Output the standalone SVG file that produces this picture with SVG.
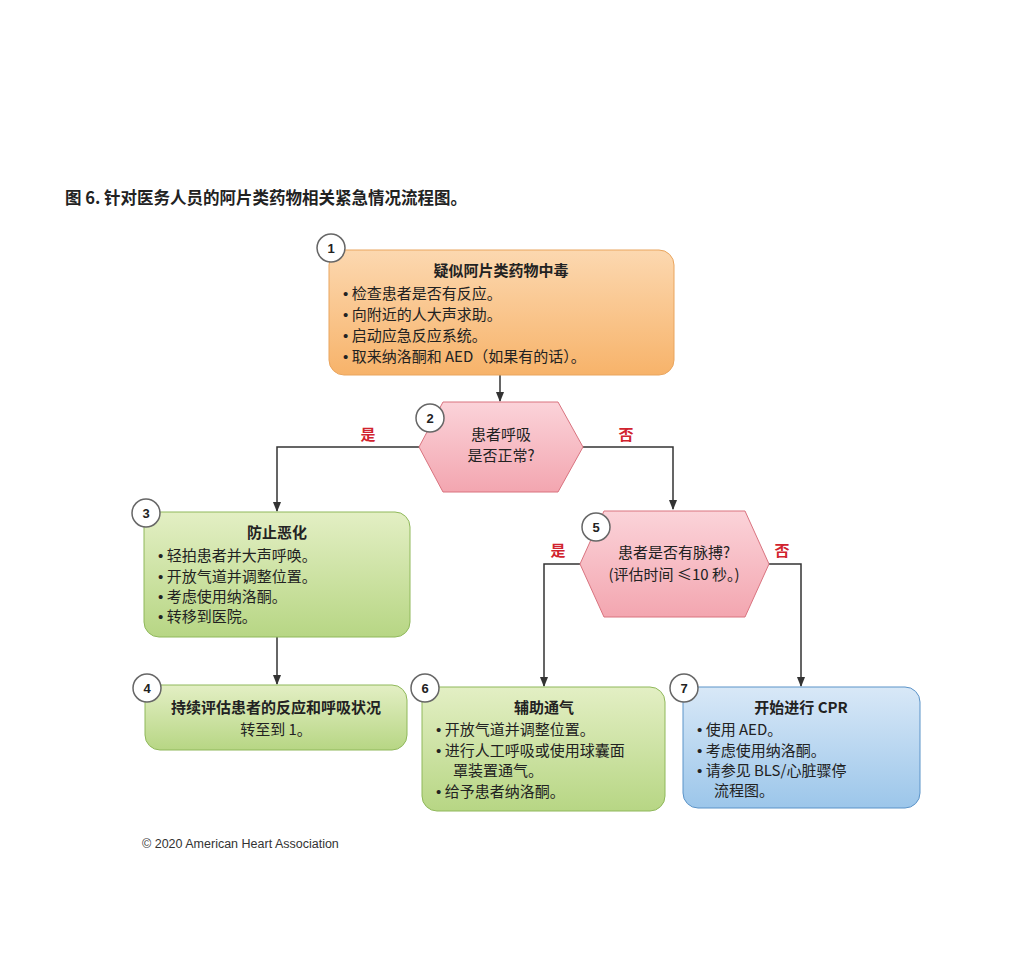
<svg xmlns="http://www.w3.org/2000/svg" width="1016" height="976" viewBox="0 0 1016 976">
<defs>
<linearGradient id="go" x1="0" y1="0" x2="0" y2="1"><stop offset="0" stop-color="#fcd8b0"/><stop offset="1" stop-color="#f7b36a"/></linearGradient>
<linearGradient id="gg" x1="0" y1="0" x2="0" y2="1"><stop offset="0" stop-color="#e3efc4"/><stop offset="1" stop-color="#b7d684"/></linearGradient>
<linearGradient id="gr" x1="0" y1="0" x2="0" y2="1"><stop offset="0" stop-color="#fbd3d9"/><stop offset="1" stop-color="#f3a6b0"/></linearGradient>
<linearGradient id="gb" x1="0" y1="0" x2="0" y2="1"><stop offset="0" stop-color="#d8e8f7"/><stop offset="1" stop-color="#9cc6ea"/></linearGradient>
<marker id="ar" viewBox="0 0 10 10" refX="9" refY="5" markerWidth="7" markerHeight="7" orient="auto"><path d="M0,1 L10,5 L0,9 z" fill="#333"/></marker>
<style>
text{font-family:"Noto Sans CJK SC","Liberation Sans",sans-serif;fill:#222;font-size:15px}
.h{font-weight:bold}
.c{text-anchor:middle}
.b{font-family:"Liberation Sans",sans-serif}
.yn{fill:#d1232e;font-weight:bold;font-size:15px}
.n circle{fill:#fff;stroke:#666;stroke-width:1.5}
.n .num{font-family:"Liberation Sans",sans-serif;font-weight:bold;font-size:13px;text-anchor:middle}
.conn path{fill:none;stroke:#333;stroke-width:1.5;marker-end:url(#ar)}
</style>
</defs>
<rect width="1016" height="976" fill="#fff"/>
<text x="65" y="204" class="h" style="font-size:16.5px">图 6. 针对医务人员的阿片类药物相关紧急情况流程图。</text>
<g class="conn">
<path d="M500,375 V401"/>
<path d="M419,447 H277 V511"/>
<path d="M583,447 H673 V509"/>
<path d="M277,637 V684"/>
<path d="M580,564 H544 V686"/>
<path d="M769,564 H801 V686"/>
</g>
<text x="368" y="440" class="yn c">是</text>
<text x="626" y="440" class="yn c">否</text>
<text x="558" y="556" class="yn c">是</text>
<text x="782" y="556" class="yn c">否</text>
<g id="n1" class="n">
<rect x="329" y="250" width="345" height="125" rx="15" fill="url(#go)" stroke="#e9a55e"/>
<circle cx="331" cy="248" r="14"/><text x="331" y="253" class="num">1</text>
<text x="501" y="276" class="h c">疑似阿片类药物中毒</text>
<text x="343" y="299"><tspan class="b">•</tspan>  检查患者是否有反应。</text>
<text x="343" y="320"><tspan class="b">•</tspan>  向附近的人大声求助。</text>
<text x="343" y="341"><tspan class="b">•</tspan>  启动应急反应系统。</text>
<text x="343" y="362"><tspan class="b">•</tspan>  取来纳洛酮和 AED（如果有的话）。</text>
</g>
<g id="n2" class="n">
<polygon points="419,447 443,402 558,402 583,447 558,492 443,492" fill="url(#gr)" stroke="#d9737f"/>
<circle cx="430" cy="418" r="14"/><text x="430" y="423" class="num">2</text>
<text x="501" y="440" class="c">患者呼吸</text>
<text x="501" y="461" class="c">是否正常?</text>
</g>
<g id="n3" class="n">
<rect x="144" y="512" width="266" height="125" rx="15" fill="url(#gg)" stroke="#8fb85a"/>
<circle cx="146" cy="513" r="14"/><text x="146" y="518" class="num">3</text>
<text x="277" y="538" class="h c">防止恶化</text>
<text x="158" y="561"><tspan class="b">•</tspan>  轻拍患者并大声呼唤。</text>
<text x="158" y="582"><tspan class="b">•</tspan>  开放气道并调整位置。</text>
<text x="158" y="602"><tspan class="b">•</tspan>  考虑使用纳洛酮。</text>
<text x="158" y="622"><tspan class="b">•</tspan>  转移到医院。</text>
</g>
<g id="n4" class="n">
<rect x="145" y="685" width="262" height="65" rx="15" fill="url(#gg)" stroke="#8fb85a"/>
<circle cx="147" cy="688" r="14"/><text x="147" y="693" class="num">4</text>
<text x="276" y="713" class="h c">持续评估患者的反应和呼吸状况</text>
<text x="276" y="735" class="c">转至到 1。</text>
</g>
<g id="n5" class="n">
<polygon points="580,564 604,511 745,511 769,564 745,617 604,617" fill="url(#gr)" stroke="#d9737f"/>
<circle cx="596" cy="527" r="14"/><text x="596" y="532" class="num">5</text>
<text x="674" y="558" class="c">患者是否有脉搏?</text>
<text x="674" y="580" class="c">(评估时间 ≤10 秒。)</text>
</g>
<g id="n6" class="n">
<rect x="422" y="687" width="243" height="124" rx="15" fill="url(#gg)" stroke="#8fb85a"/>
<circle cx="425" cy="688" r="14"/><text x="425" y="693" class="num">6</text>
<text x="544" y="713" class="h c">辅助通气</text>
<text x="436" y="735"><tspan class="b">•</tspan>  开放气道并调整位置。</text>
<text x="436" y="756"><tspan class="b">•</tspan>  进行人工呼吸或使用球囊面</text>
<text x="453" y="776">罩装置通气。</text>
<text x="436" y="797"><tspan class="b">•</tspan>  给予患者纳洛酮。</text>
</g>
<g id="n7" class="n">
<rect x="683" y="687" width="237" height="121" rx="15" fill="url(#gb)" stroke="#5b93c8"/>
<circle cx="684" cy="688" r="14"/><text x="684" y="693" class="num">7</text>
<text x="801" y="713" class="h c">开始进行 CPR</text>
<text x="697" y="735"><tspan class="b">•</tspan>  使用 AED。</text>
<text x="697" y="756"><tspan class="b">•</tspan>  考虑使用纳洛酮。</text>
<text x="697" y="776"><tspan class="b">•</tspan>  请参见 BLS/心脏骤停</text>
<text x="714" y="796">流程图。</text>
</g>
<text x="142" y="848" style="font-family:'Liberation Sans',sans-serif;font-size:12.5px;fill:#333">© 2020 American Heart Association</text>
</svg>
